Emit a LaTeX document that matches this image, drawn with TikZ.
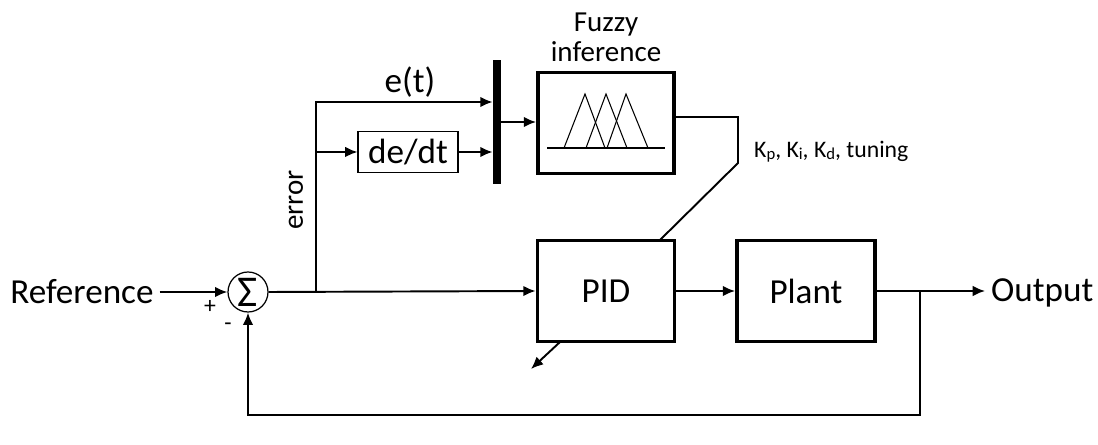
\documentclass[tikz,border=0pt]{standalone}
\usepackage{fontspec}
\setmainfont{Carlito}
\usepackage{tikz}
\usetikzlibrary{arrows.meta}

\tikzset{
  blockbox/.style={draw, line width=2.2pt, inner sep=0pt},
  signal/.style={line width=1.1pt, -{Latex[length=7pt,width=6pt]}},
  wire/.style={line width=1.1pt},
  bigtext/.style={font=\fontsize{20}{22}\selectfont},
  midtext/.style={font=\fontsize{16.5}{17}\selectfont},
  smalltext/.style={font=\fontsize{13.5}{16}\selectfont}
}
\newcommand{\gainsub}[1]{K\raisebox{-0.2ex}{\fontsize{9.5}{10}\selectfont #1}}

\begin{document}
\begin{tikzpicture}[x=0.02cm, y=-0.02cm]
\useasboundingbox (0,0) rectangle (1098,445);

% blocks
\node[bigtext] (ref) at (82,292) {Reference};
\node[draw, circle, line width=0.7pt, minimum size=0.8cm, inner sep=0pt, font=\fontsize{25}{25}\selectfont] (sum) at (248,292) {Σ};
\node[draw, line width=0.6pt, minimum width=2cm, minimum height=0.82cm, inner sep=0pt, bigtext] (ddt) at (408,152) {de/dt};
\node[fill, minimum width=0.16cm, minimum height=2.5cm, inner sep=0pt] (mux) at (497,122) {};
\node[blockbox, minimum width=2.72cm, minimum height=2.02cm] (fuzzy) at (606,123) {};
\node[blockbox, minimum width=2.74cm, minimum height=2.02cm, bigtext] (pid) at (606,291) {PID};
\node[blockbox, minimum width=2.76cm, minimum height=2.02cm, bigtext] (plant) at (806,291) {Plant};
\node[bigtext, anchor=west] (out) at (985,293) {Output};

% labels
\node[midtext, align=center, anchor=south] (fuzzylbl) at (606,68) {Fuzzy\\inference};
\node[bigtext] (etlbl) at (410,82) {e(t)};
\node[smalltext, anchor=west] (klbl) at (748,152) {\gainsub{p}, \gainsub{i}, \gainsub{d}, tuning};
\node[midtext, rotate=90] (errlbl) at (296,200) {error};
\node[smalltext] (plus) at (210,307) {+};
\node[smalltext] (minus) at (228,327) {-};

% membership functions
\draw[line width=0.6pt] (547,148) -- (665,148);
\draw[line width=0.6pt] (564,148) -- (585,94) -- (605,148);
\draw[line width=0.6pt] (586,148) -- (606,94) -- (627,148);
\draw[line width=0.6pt] (607,148) -- (626,94) -- (648,148);

% coordinates
\coordinate (split) at (316,292);
\coordinate (fbsplit) at (920,291);
\coordinate (bend1) at (738,117);
\coordinate (bend2) at (738,163);
\coordinate (pidtap) at (660,240);
\coordinate (tipend) at (531,369);
\coordinate (fbbot) at (920,415);

% connectors
\draw[signal] (ref.east |- sum.west) -- (sum.west);
\draw[signal] (sum.east) -- (pid.west);
\draw[signal] (split) -- (316,102) -- (mux.west |- 0,102);
\draw[signal] (split |- ddt) -- (ddt.west);
\draw[signal] (ddt.east) -- (mux.west |- ddt);
\draw[signal] (mux.east |- 0,122) -- (fuzzy.west |- 0,122);
\draw[wire] (fuzzy.east |- bend1) -- (bend1) -- (bend2) -- (pidtap);
\draw[signal] (pid.east) -- (plant.west);
\draw[signal] (plant.east) -- (out.west |- plant.east);
\draw[signal] (560,342) -- (tipend);
\draw[signal] (fbsplit) -- (fbbot) -| (sum.south);
\end{tikzpicture}
\end{document}
